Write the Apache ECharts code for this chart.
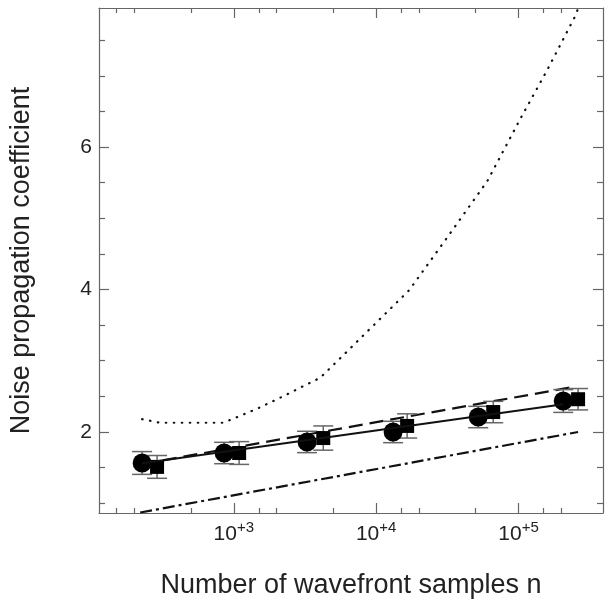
<!DOCTYPE html>
<html><head><meta charset="utf-8">
<script src="https://cdn.jsdelivr.net/npm/echarts@6/dist/echarts.min.js"></script>
<style>html,body{margin:0;padding:0;background:#fff}#c{width:606px;height:606px}</style>
</head><body><div id="c"></div>
<script>
// ---- tick values ----
const xMajorTicks = [1000, 10000, 100000];
const xMinorTicks = [150, 200, 500, 1500, 2000, 5000, 15000, 20000, 50000, 150000, 200000];
const yMajorTicks = [2, 4, 6];
const yMinorTicks = [1, 1.5, 2.5, 3, 3.5, 4.5, 5, 5.5, 6.5, 7, 7.5];

// ---- data: circles ----
const circleN = [227, 855, 3270, 13150, 52100, 206000];
const circleY = [1.565, 1.705, 1.86, 2.0, 2.21, 2.435];
const circleErr = [0.16, 0.15, 0.15, 0.15, 0.15, 0.16];
// ---- data: squares ----
const squareN = [289, 1090, 4250, 16500, 66400, 262000];
const squareY = [1.51, 1.705, 1.915, 2.085, 2.28, 2.46];
const squareErr = [0.16, 0.16, 0.17, 0.17, 0.15, 0.15];
// ---- lines ----
const solidN = [227, 206000];
const solidY = [1.56, 2.39];
const dashedN = [227, 239000];
const dashedY = [1.55, 2.63];
const dashDotN = [220, 262000];
const dashDotY = [0.87, 2.0];
const dottedN = [227, 303, 493, 841, 973, 1434, 2115, 3120, 4040, 5490, 17050, 31000, 60300, 104500, 159000, 255000, 270000];
const dottedY = [2.18, 2.13, 2.13, 2.13, 2.18, 2.32, 2.48, 2.65, 2.76, 3.02, 3.99, 4.71, 5.52, 6.42, 7.08, 7.87, 8.05];

const xMin = 113, xMax = 392000, yMin = 0.863, yMax = 7.951;
const frameColor = '#666';
const font = 'Liberation Sans, Arial, Helvetica, sans-serif';

function zip(a, b, c) { return a.map((v, i) => c ? [v, b[i], c[i]] : [v, b[i]]); }

function xAxisDef(pos, major, showLabel) {
  return {
    type: 'log', logBase: 10, min: xMin, max: xMax, position: pos,
    axisLine: { show: major, onZero: false, lineStyle: { color: frameColor, width: 1.2 } },
    axisTick: { show: true, inside: true, length: major ? 10 : 5, customValues: major ? xMajorTicks : xMinorTicks,
      lineStyle: { color: frameColor, width: 1.2 } },
    axisLabel: showLabel ? {
      show: true, margin: 7, customValues: xMajorTicks,
      formatter: v => '{b|10}{s|+' + Math.round(Math.log10(v)) + '}',
      rich: {
        b: { fontSize: 21, fontFamily: font, color: '#222', verticalAlign: 'bottom', lineHeight: 25 },
        s: { fontSize: 15, fontFamily: font, color: '#222', verticalAlign: 'top', lineHeight: 25, padding: [0, 0, 10, 0] }
      }
    } : { show: false },
    splitLine: { show: false }
  };
}
function yAxisDef(pos, major, showLabel) {
  return {
    type: 'value', min: yMin, max: yMax, position: pos,
    axisLine: { show: major, onZero: false, lineStyle: { color: frameColor, width: 1.2 } },
    axisTick: { show: true, inside: true, length: major ? 10 : 6, customValues: major ? yMajorTicks : yMinorTicks,
      lineStyle: { color: frameColor, width: 1.2 } },
    axisLabel: showLabel ? { show: true, margin: 7, customValues: yMajorTicks, fontSize: 21, fontFamily: font, color: '#222' } : { show: false },
    splitLine: { show: false }
  };
}

const xAxes = [xAxisDef('bottom', true, true), xAxisDef('bottom', false, false), xAxisDef('top', true, false), xAxisDef('top', false, false)];
xAxes[0].name = 'Number of wavefront samples n';
xAxes[0].nameLocation = 'middle';
xAxes[0].nameGap = 59;
xAxes[0].nameTextStyle = { fontSize: 27, fontFamily: font, color: '#222' };
const yAxes = [yAxisDef('left', true, true), yAxisDef('left', false, false), yAxisDef('right', true, false), yAxisDef('right', false, false)];
yAxes[0].name = 'Noise propagation coefficient';
yAxes[0].nameLocation = 'middle';
yAxes[0].nameGap = 64;
yAxes[0].nameTextStyle = { fontSize: 27, fontFamily: font, color: '#222' };

function errorSeries(n, y, e, capHalf) {
  return {
    type: 'custom', xAxisIndex: 0, yAxisIndex: 0, z: 3,
    data: zip(n, y, e),
    renderItem: function (params, api) {
      const x = api.value(0), yv = api.value(1), er = api.value(2);
      const top = api.coord([x, yv + er]);
      const bot = api.coord([x, yv - er]);
      const st = { stroke: '#666', lineWidth: 1.5 };
      return { type: 'group', children: [
        { type: 'line', shape: { x1: top[0], y1: top[1], x2: bot[0], y2: bot[1] }, style: st },
        { type: 'line', shape: { x1: top[0] - capHalf, y1: top[1], x2: top[0] + capHalf, y2: top[1] }, style: st },
        { type: 'line', shape: { x1: bot[0] - capHalf, y1: bot[1], x2: bot[0] + capHalf, y2: bot[1] }, style: st }
      ]};
    }
  };
}

const chart = echarts.init(document.getElementById('c'), null, { renderer: 'canvas' });
chart.setOption({
  animation: false,
  backgroundColor: '#fff',
  grid: { left: 98, right: 3, top: 8, bottom: 93, containLabel: false },
  xAxis: xAxes,
  yAxis: yAxes,
  series: [
    { type: 'line', data: zip(dottedN, dottedY), showSymbol: false, symbol: 'none', z: 2, clip: true,
      lineStyle: { color: '#111', width: 2.2, type: [0.5, 7.5], cap: 'round' } },
    { type: 'line', data: zip(dashDotN, dashDotY), symbol: 'none', z: 2,
      lineStyle: { color: '#111', width: 2.2, type: [12, 4, 3, 4] } },
    { type: 'line', data: zip(dashedN, dashedY), symbol: 'none', z: 2,
      lineStyle: { color: '#111', width: 2.2, type: [14, 7] } },
    errorSeries(circleN, circleY, circleErr, 10),
    errorSeries(squareN, squareY, squareErr, 10),
    { type: 'scatter', data: zip(circleN, circleY), symbol: 'circle', symbolSize: 19, z: 4,
      itemStyle: { color: '#000', opacity: 1 } },
    { type: 'scatter', data: zip(squareN, squareY), symbol: 'rect', symbolSize: 14, z: 5,
      itemStyle: { color: '#000', opacity: 1 } },
    { type: 'line', data: zip(solidN, solidY), symbol: 'none', z: 6,
      lineStyle: { color: '#111', width: 2 } }
  ]
});
</script>
</body></html>
